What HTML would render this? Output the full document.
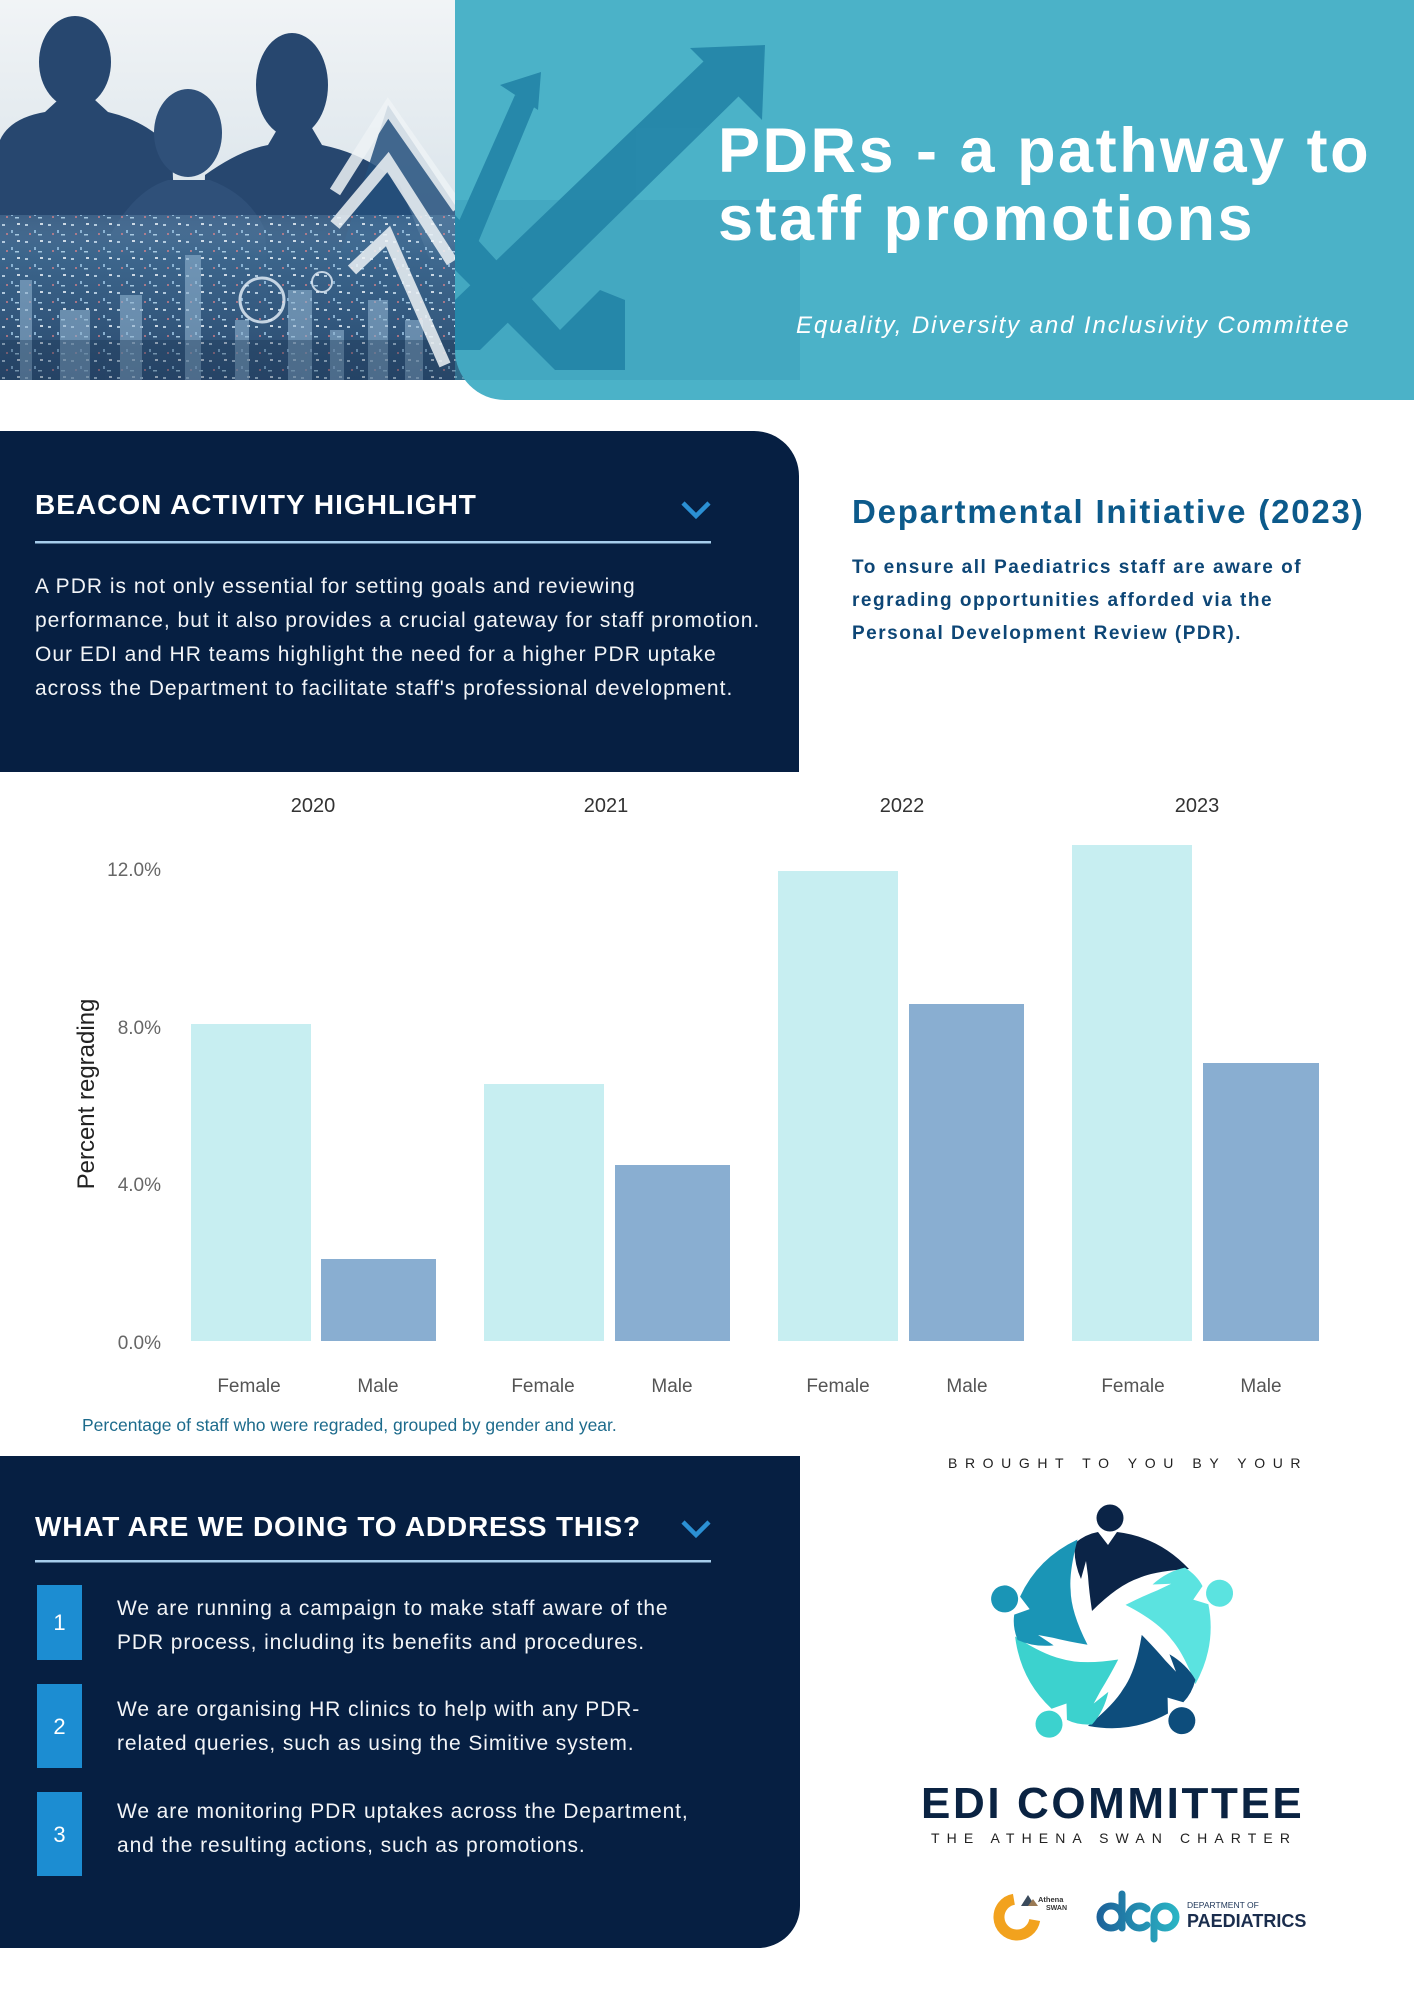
<!DOCTYPE html>
<html><head><meta charset="utf-8"><style>
html,body{margin:0;padding:0;background:#fff;}
body{width:1414px;height:2000px;overflow:hidden;position:relative;}
svg{position:absolute;left:0;top:0;display:block;}
text{font-family:"Liberation Sans",Arial,sans-serif;}
</style></head><body>
<svg width="1414" height="2000" viewBox="0 0 1414 2000" xmlns="http://www.w3.org/2000/svg">
<defs>
<linearGradient id="sky" x1="0" y1="0" x2="0" y2="1"><stop offset="0" stop-color="#f1f4f6"/><stop offset="0.5" stop-color="#dde6ec"/><stop offset="1" stop-color="#c9d6e0"/></linearGradient>
<linearGradient id="city" x1="0" y1="0" x2="0" y2="1"><stop offset="0" stop-color="#6a93b4" stop-opacity="0.4"/><stop offset="0.25" stop-color="#3f6a90"/><stop offset="1" stop-color="#2a4a6e"/></linearGradient>
<pattern id="win" width="23" height="17" patternUnits="userSpaceOnUse"><rect x="2" y="3" width="3" height="2" fill="#cfe3f2"/><rect x="11" y="9" width="2" height="3" fill="#9fc7e6"/><rect x="17" y="2" width="3" height="2" fill="#f0f6fb"/><rect x="6" y="12" width="2" height="2" fill="#ff8a8a" opacity=".7"/><rect x="15" y="13" width="4" height="1.5" fill="#bfe0f5"/></pattern>
<clipPath id="phc"><rect x="0" y="0" width="520" height="380"/></clipPath>
<clipPath id="tc"><rect x="455" y="0" width="345" height="380"/></clipPath>
<linearGradient id="dcpg" gradientUnits="userSpaceOnUse" x1="1095" y1="0" x2="1180" y2="0"><stop offset="0" stop-color="#1c5f98"/><stop offset="1" stop-color="#2bb7c6"/></linearGradient>
</defs>

<!-- HEADER PHOTO -->
<g clip-path="url(#phc)">
<rect x="0" y="0" width="520" height="380" fill="url(#sky)"/>
<g fill="#27476f">
<ellipse cx="75" cy="62" rx="36" ry="46"/>
<path d="M0,140 Q10,118 45,112 L58,100 L95,100 L108,112 Q150,122 172,150 L180,380 L0,380 Z"/>
<ellipse cx="292" cy="85" rx="36" ry="52"/>
<path d="M205,175 Q240,150 268,145 L278,128 L312,128 L322,145 Q370,155 400,185 L430,260 L430,380 L200,380 Z"/>
</g>
<ellipse cx="188" cy="133" rx="34" ry="44" fill="#2f5079"/>
<path d="M110,235 Q135,190 168,180 L210,180 Q250,195 265,230 L272,380 L105,380 Z" fill="#2f5079"/>
<polygon points="300,380 388,105 455,205 520,205 520,380" fill="#24507c" opacity="0.85"/>
<rect x="0" y="215" width="520" height="165" fill="url(#city)" opacity="0.85"/>
<rect x="0" y="215" width="520" height="165" fill="url(#win)" opacity="0.8"/>
<g fill="#8fb2cf" opacity="0.6">
<rect x="185" y="255" width="16" height="125"/><rect x="288" y="290" width="24" height="90"/><rect x="368" y="300" width="20" height="80"/><rect x="60" y="310" width="30" height="70"/><rect x="235" y="320" width="14" height="60"/>
<rect x="20" y="280" width="12" height="100"/><rect x="120" y="295" width="22" height="85"/><rect x="405" y="320" width="18" height="60"/><rect x="330" y="330" width="14" height="50"/>
</g>
<rect x="0" y="340" width="520" height="40" fill="#1e3654" opacity="0.35"/>
<circle cx="262" cy="300" r="22" fill="none" stroke="#e8f3fb" stroke-width="3" opacity="0.8"/>
<circle cx="322" cy="282" r="10" fill="none" stroke="#e8f3fb" stroke-width="2" opacity="0.8"/>
<g stroke="#eef3f6" stroke-width="12" fill="none" opacity="0.85">
<polyline points="335,192 388,108 458,208"/>
<polyline points="335,225 388,162 452,262"/>
<polyline points="352,270 388,236 445,365"/>
</g>
</g>

<!-- TEAL PANEL -->
<path d="M455,0 H1414 V400 H505 A50,50 0 0 1 455,350 Z" fill="#4bb2c8"/>
<g clip-path="url(#tc)">
<rect x="455" y="200" width="345" height="180" fill="#3a9bb7" opacity="0.45"/>
<g fill="#2283a6" opacity="0.88">
<polygon points="455,300 705,60 740,95 480,350 455,350"/>
<polygon points="690,48 765,45 762,120"/>
<polygon points="455,230 515,95 535,105 470,262"/>
<polygon points="500,85 541,72 538,110"/>
<polygon points="455,215 560,330 600,290 625,300 625,370 555,370 455,270"/>
</g>
</g>
<text x="718" y="172" font-size="63" font-weight="bold" fill="#fff" letter-spacing="2.5">PDRs - a pathway to</text>
<text x="718" y="240" font-size="63" font-weight="bold" fill="#fff" letter-spacing="2.5">staff promotions</text>
<text x="796" y="333" font-size="24" font-style="italic" fill="#fff" letter-spacing="1.9">Equality, Diversity and Inclusivity Committee</text>

<!-- SECTION 1 -->
<path d="M0,431 H754 A45,45 0 0 1 799,476 V772 H0 Z" fill="#061f42"/>
<text x="35" y="514" font-size="28" font-weight="bold" fill="#fff" letter-spacing="1">BEACON ACTIVITY HIGHLIGHT</text>
<polyline points="683,503 696,516 709,503" fill="none" stroke="#2b90d4" stroke-width="4.5"/>
<rect x="35" y="541" width="676" height="2.5" fill="#a6cdec"/>
<g font-size="21" fill="#f2f4f7" letter-spacing="1">
<text x="35" y="593">A PDR is not only essential for setting goals and reviewing</text>
<text x="35" y="627">performance, but it also provides a crucial gateway for staff promotion.</text>
<text x="35" y="661">Our EDI and HR teams highlight the need for a higher PDR uptake</text>
<text x="35" y="695">across the Department to facilitate staff's professional development.</text>
</g>
<text x="852" y="523" font-size="33" font-weight="bold" fill="#0c5a8b" letter-spacing="1.8">Departmental Initiative (2023)</text>
<g font-size="19" font-weight="bold" fill="#0d4676" letter-spacing="1.5">
<text x="852" y="573">To ensure all Paediatrics staff are aware of</text>
<text x="852" y="606">regrading opportunities afforded via the</text>
<text x="852" y="639">Personal Development Review (PDR).</text>
</g>

<!-- CHART -->
<g font-size="20" fill="#333" text-anchor="middle">
<text x="313" y="812">2020</text><text x="606" y="812">2021</text><text x="902" y="812">2022</text><text x="1197" y="812">2023</text>
</g>
<g font-size="19" fill="#666" text-anchor="end">
<text x="161" y="876">12.0%</text><text x="161" y="1034">8.0%</text><text x="161" y="1191">4.0%</text><text x="161" y="1349">0.0%</text>
</g>
<text transform="translate(94,1094) rotate(-90)" text-anchor="middle" font-size="24" fill="#222">Percent regrading</text>
<g fill="#c7eef1">
<rect x="191" y="1024" width="120" height="317"/>
<rect x="484" y="1084" width="120" height="257"/>
<rect x="778" y="871" width="120" height="470"/>
<rect x="1072" y="845" width="120" height="496"/>
</g>
<g fill="#89aed1">
<rect x="321" y="1259" width="115" height="82"/>
<rect x="615" y="1165" width="115" height="176"/>
<rect x="909" y="1004" width="115" height="337"/>
<rect x="1203" y="1063" width="116" height="278"/>
</g>
<g font-size="19" fill="#555" text-anchor="middle">
<text x="249" y="1392">Female</text><text x="378" y="1392">Male</text>
<text x="543" y="1392">Female</text><text x="672" y="1392">Male</text>
<text x="838" y="1392">Female</text><text x="967" y="1392">Male</text>
<text x="1133" y="1392">Female</text><text x="1261" y="1392">Male</text>
</g>
<text x="82" y="1431" font-size="17.5" fill="#1d6b8c">Percentage of staff who were regraded, grouped by gender and year.</text>

<!-- SECTION 3 -->
<path d="M0,1456 H800 V1906 A42,42 0 0 1 758,1948 H0 Z" fill="#061f42"/>
<text x="35" y="1536" font-size="28" font-weight="bold" fill="#fff" letter-spacing="0.8">WHAT ARE WE DOING TO ADDRESS THIS?</text>
<polyline points="683,1522 696,1535 709,1522" fill="none" stroke="#2b90d4" stroke-width="4.5"/>
<rect x="35" y="1560" width="676" height="2.5" fill="#a6cdec"/>
<g fill="#1c8dd2">
<rect x="37" y="1585" width="45" height="75"/>
<rect x="37" y="1684" width="45" height="84"/>
<rect x="37" y="1792" width="45" height="84"/>
</g>
<g font-size="22" fill="#fff" text-anchor="middle">
<text x="59.5" y="1630">1</text><text x="59.5" y="1734">2</text><text x="59.5" y="1842">3</text>
</g>
<g font-size="21" fill="#f2f4f7" letter-spacing="0.9">
<text x="117" y="1615">We are running a campaign to make staff aware of the</text>
<text x="117" y="1649">PDR process, including its benefits and procedures.</text>
<text x="117" y="1716">We are organising HR clinics to help with any PDR-</text>
<text x="117" y="1750">related queries, such as using the Simitive system.</text>
<text x="117" y="1818">We are monitoring PDR uptakes across the Department,</text>
<text x="117" y="1852">and the resulting actions, such as promotions.</text>
</g>

<!-- BRAND -->
<text x="948" y="1468" font-size="14" fill="#222" letter-spacing="7.6">BROUGHT TO YOU BY YOUR</text>
<g transform="translate(1113,1631)">
<g transform="rotate(0)" fill="#0b2447"><path d="M-38,-88 Q-27,-97 -15,-99 L-5,-86 L4,-99 Q46,-94 76,-62 Q42,-60 26,-53 Q5,-46 -21,-20 Q-24,-40 -25,-55 L-27,-70 L-32,-52 Q-40,-70 -38,-88 Z"/><circle cx="-3" cy="-113" r="13.5"/></g>
<g transform="rotate(72)" fill="#5be3e0"><path d="M-38,-88 Q-27,-97 -15,-99 L-5,-86 L4,-99 Q46,-94 76,-62 Q42,-60 26,-53 Q5,-46 -21,-20 Q-24,-40 -25,-55 L-27,-70 L-32,-52 Q-40,-70 -38,-88 Z"/><circle cx="-3" cy="-113" r="13.5"/></g>
<g transform="rotate(144)" fill="#0d4d7c"><path d="M-38,-88 Q-27,-97 -15,-99 L-5,-86 L4,-99 Q46,-94 76,-62 Q42,-60 26,-53 Q5,-46 -21,-20 Q-24,-40 -25,-55 L-27,-70 L-32,-52 Q-40,-70 -38,-88 Z"/><circle cx="-3" cy="-113" r="13.5"/></g>
<g transform="rotate(216)" fill="#3cd2ce"><path d="M-38,-88 Q-27,-97 -15,-99 L-5,-86 L4,-99 Q46,-94 76,-62 Q42,-60 26,-53 Q5,-46 -21,-20 Q-24,-40 -25,-55 L-27,-70 L-32,-52 Q-40,-70 -38,-88 Z"/><circle cx="-3" cy="-113" r="13.5"/></g>
<g transform="rotate(288)" fill="#1a95b6"><path d="M-38,-88 Q-27,-97 -15,-99 L-5,-86 L4,-99 Q46,-94 76,-62 Q42,-60 26,-53 Q5,-46 -21,-20 Q-24,-40 -25,-55 L-27,-70 L-32,-52 Q-40,-70 -38,-88 Z"/><circle cx="-3" cy="-113" r="13.5"/></g>
</g>
<text x="921" y="1818" font-size="44" font-weight="bold" fill="#0a2342" letter-spacing="2.6">EDI COMMITTEE</text>
<text x="931" y="1843" font-size="14" fill="#222" letter-spacing="7.1">THE ATHENA SWAN CHARTER</text>

<!-- footer logos -->
<path d="M1013.9,1899.3 A18,18 0 1 0 1034.7,1920.1" fill="none" stroke="#f2a21e" stroke-width="11"/>
<polygon points="1021,1906 1028,1895 1035,1906" fill="#3b4b5c"/>
<polygon points="1028,1906 1033,1899 1038,1906" fill="#9a7a55"/>
<text x="1038" y="1902" font-size="7.5" font-weight="bold" fill="#333">Athena</text>
<text x="1046" y="1910" font-size="7" font-weight="bold" fill="#333">SWAN</text>
<g fill="none" stroke="url(#dcpg)" stroke-width="7" stroke-linecap="round">
<circle cx="1111" cy="1917" r="11"/>
<line x1="1122" y1="1894" x2="1122" y2="1928"/>
<path d="M1147,1909 A11,11 0 1 0 1147,1925"/>
<circle cx="1165" cy="1917" r="11"/>
<line x1="1154" y1="1917" x2="1154" y2="1939"/>
</g>
<text x="1187" y="1908" font-size="8.5" fill="#1d3557">DEPARTMENT OF</text>
<text x="1187" y="1927" font-size="18" font-weight="bold" fill="#1a2d4d">PAEDIATRICS</text>
</svg>
</body></html>
